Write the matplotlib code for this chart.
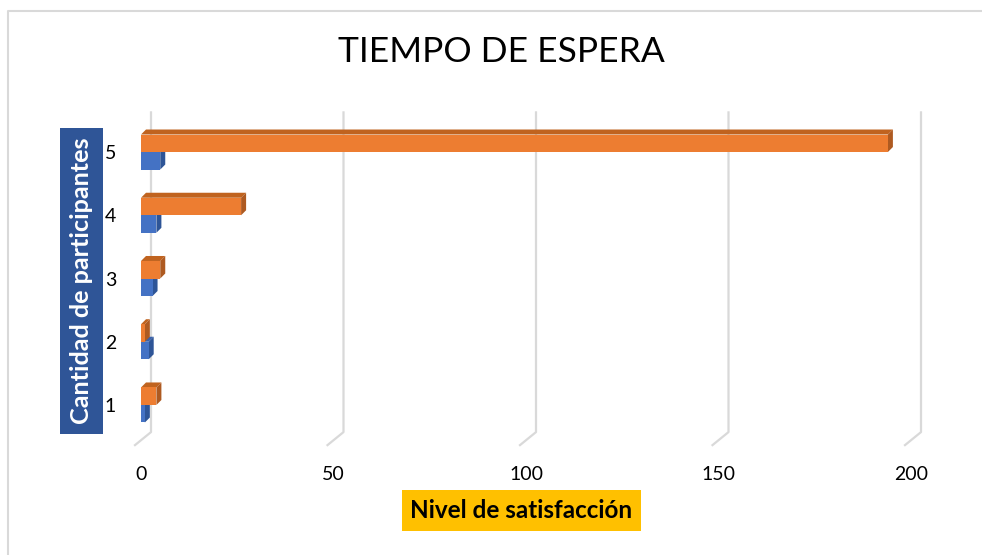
import matplotlib
matplotlib.use("Agg")
import matplotlib.pyplot as plt
from matplotlib.patches import Polygon
from matplotlib.lines import Line2D

# data
categorias = [1, 2, 3, 4, 5]
serie_azul = [1, 2, 3, 4, 5]
serie_naranja = [4, 1, 5, 26, 194]
xticks = [0, 50, 100, 150, 200]

titulo = "TIEMPO DE ESPERA"
etiqueta_y = "Cantidad de participantes"
etiqueta_x = "Nivel de satisfacción"

# colours
AZUL = "#4472C4"
AZUL_LADO = "#2E5597"
AZUL_TOPE = "#3A62AB"
NARANJA = "#ED7D31"
NARANJA_LADO = "#AE5A21"
NARANJA_TOPE = "#C0631F"
GRID = "#D9D9D9"

plt.rcParams["font.family"] = ["Lato", "DejaVu Sans"]

W, H = 982, 555
fig = plt.figure(figsize=(W / 100, H / 100), dpi=100)
fig.patch.set_facecolor("white")

# plot area in pixels (from top-left)
px_left, px_right = 141, 911
px_top, px_bottom = 120.4, 436.6
ax = fig.add_axes([px_left / W, 1 - px_bottom / H,
                   (px_right - px_left) / W, (px_bottom - px_top) / H])
ax.set_xlim(0, 200)
ax.set_ylim(0.5, 5.5)
for s in ax.spines.values():
    s.set_visible(False)
ax.set_facecolor("none")

ux = (px_right - px_left) / 200.0      # px per x unit
uy = (px_bottom - px_top) / 5.0        # px per y unit

# slanted "3D" gridlines: back wall + floor foot
back_dx = 10 / ux
front_dx = -6 / ux
y_top = 5.5 + 8 / uy
y_floor = 0.5 + 4.5 / uy
y_front = 0.5 - 8.5 / uy
for t in xticks:
    ax.add_line(Line2D([t + back_dx, t + back_dx, t + front_dx],
                       [y_top, y_floor, y_front],
                       color=GRID, lw=1.6, clip_on=False, zorder=0))

# 3D bars
alto = 0.277
dx, dy = 5 / ux, 5 / uy


def barra3d(y0, valor, cara, tope, lado):
    y1 = y0 + alto
    ax.add_patch(Polygon([[0, y1], [valor, y1], [valor + dx, y1 + dy], [dx, y1 + dy]],
                         closed=True, fc=tope, ec="none", clip_on=False, zorder=2))
    ax.add_patch(Polygon([[valor, y0], [valor + dx, y0 + dy], [valor + dx, y1 + dy], [valor, y1]],
                         closed=True, fc=lado, ec="none", clip_on=False, zorder=2))
    ax.add_patch(Polygon([[0, y0], [valor, y0], [valor, y1], [0, y1]],
                         closed=True, fc=cara, ec="none", clip_on=False, zorder=2))


for c, va, vn in zip(categorias, serie_azul, serie_naranja):
    barra3d(c - alto, va, AZUL, AZUL_TOPE, AZUL_LADO)
    barra3d(c, vn, NARANJA, NARANJA_TOPE, NARANJA_LADO)

ax.set_xticks(xticks)
ax.set_yticks(categorias)
ax.tick_params(axis="both", length=0, labelsize=14, colors="#000000")
ax.tick_params(axis="x", pad=21)
ax.tick_params(axis="y", pad=18)

# chart title and axis titles with coloured boxes
fig.text(501 / W, 1 - 52 / H, titulo, ha="center", va="center",
         fontsize=25.5, color="#000000")
fig.text(81.5 / W, 1 - 281 / H, etiqueta_y, rotation=90, ha="center", va="center",
         fontsize=18.2, fontweight="bold", color="white",
         bbox=dict(boxstyle="square,pad=0.38", fc="#2F5597", ec="none"))
fig.text(521.5 / W, 1 - 510.5 / H, etiqueta_x, ha="center", va="center",
         fontsize=17.5, fontweight="bold", color="black",
         bbox=dict(boxstyle="square,pad=0.36", fc="#FFC000", ec="none"))

# chart-area border (top and left edges visible)
fig.add_artist(Line2D([7.5 / W, 7.5 / W, 1.0], [0.0, 1 - 10.5 / H, 1 - 10.5 / H],
                      transform=fig.transFigure, color=GRID, lw=1.5))

fig.savefig("out.png", dpi=100)
